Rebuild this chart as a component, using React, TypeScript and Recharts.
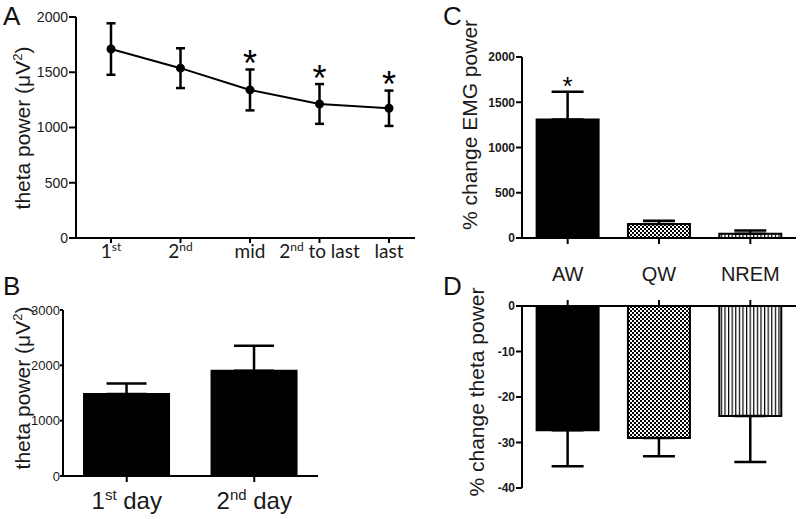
import {
  LineChart,
  Line,
  BarChart,
  Bar,
  ComposedChart,
  XAxis,
  YAxis,
  ErrorBar,
  LabelList,
  Cell,
} from "recharts";

// A: theta power across trial phases
const phaseLabels = ["1st", "2nd", "mid", "2nd to last", "last"];
const phaseMean = [1710, 1537, 1340, 1213, 1174];
const phaseSem = [233, 180, 185, 180, 160];
const phaseSig = [false, false, true, true, true];

// B: theta power per day
const dayLabels = ["1st day", "2nd day"];
const dayMean = [1480, 1900];
const daySem = [193, 452];

// C / D: change per behavioural state
const stateLabels = ["AW", "QW", "NREM"];
const emgChange = [1310, 154, 47];
const emgSem = [305, 36, 37];
const emgSig = [true, false, false];
const thetaChange = [-27.3, -29.0, -24.2];
const thetaSem = [7.9, 4.0, 10.1];

const stateFills = ["#000", "url(#chk)", "url(#vstripe)"];

const phaseData = phaseLabels.map((label, i) => ({
  label,
  mean: phaseMean[i],
  sem: phaseSem[i],
  starAt: phaseSig[i] ? phaseMean[i] + phaseSem[i] : null,
}));

const dayData = dayLabels.map((label, i) => ({
  label,
  mean: dayMean[i],
  err: [0, daySem[i]],
}));

const emgData = stateLabels.map((state, i) => ({
  state,
  value: emgChange[i],
  err: [0, emgSem[i]],
  starAt: emgSig[i] ? emgChange[i] + emgSem[i] : null,
}));

const thetaData = stateLabels.map((state, i) => ({
  state,
  value: thetaChange[i],
  err: [thetaSem[i], 0],
}));

const FONT = "'Liberation Sans', Arial, sans-serif";
const axisStyle = { stroke: "#000", strokeWidth: 2 };

const supTick = (fontSize: number, supSize: number, family: string) => (props: any) => {
  const { x, y, payload } = props;
  const m = /^(\d)(st|nd|rd|th)(.*)$/.exec(payload.value);
  const rise = Math.round(fontSize * 0.38);
  return (
    <text x={x} y={y} dy="0.71em" textAnchor="middle" fontFamily={family} fontSize={fontSize} fill="#1a1a1a">
      {m ? (
        <>
          <tspan>{m[1]}</tspan>
          <tspan dy={-rise} fontSize={supSize}>{m[2]}</tspan>
          <tspan dy={rise}>{m[3]}</tspan>
        </>
      ) : (
        payload.value
      )}
    </text>
  );
};

const star = (size: number, dy: number) => (props: any) => {
  const { x, y, value } = props;
  if (value == null) return null;
  return (
    <text x={x} y={y + dy} textAnchor="middle" fontFamily={FONT} fontSize={size} fill="#000">
      *
    </text>
  );
};

function YLabel({ cx, cy, children }: { cx: number; cy: number; children: any }) {
  return (
    <div
      style={{
        position: "absolute",
        left: cx,
        top: cy,
        transform: "translate(-50%, -50%) rotate(-90deg)",
        whiteSpace: "nowrap",
        fontSize: 21,
        lineHeight: 1,
        color: "#1a1a1a",
      }}
    >
      {children}
    </div>
  );
}

function Letter({ left, top, children }: { left: number; top: number; children: string }) {
  return (
    <div style={{ position: "absolute", left, top, fontSize: 26, lineHeight: 1, color: "#111" }}>
      {children}
    </div>
  );
}

const thetaUnit = (
  <>
    theta power (μV<span style={{ fontSize: 13, verticalAlign: "8px" }}>2</span>)
  </>
);

export default function App() {
  return (
    <div
      style={{
        position: "absolute",
        left: 0,
        top: 0,
        width: 800,
        height: 519,
        background: "#fff",
        fontFamily: FONT,
        overflow: "hidden",
      }}
    >
      <svg width={0} height={0} style={{ position: "absolute" }}>
        <defs>
          <pattern id="chk" width={4} height={4} patternUnits="userSpaceOnUse">
            <rect width={4} height={4} fill="#fff" />
            <rect width={2} height={2} fill="#000" />
            <rect x={2} y={2} width={2} height={2} fill="#000" />
          </pattern>
          <pattern id="vstripe" width={3.6} height={4} patternUnits="userSpaceOnUse">
            <rect width={3.6} height={4} fill="#fff" />
            <rect width={1.2} height={4} fill="#000" />
          </pattern>
        </defs>
      </svg>

      {/* A */}
      <div style={{ position: "absolute", left: 0, top: 0 }}>
        <LineChart width={430} height={270} data={phaseData} margin={{ top: 17, right: 15, bottom: 2, left: 0 }}>
          <XAxis
            dataKey="label"
            scale="point"
            padding={{ left: 35, right: 26 }}
            height={30}
            axisLine={axisStyle}
            tickLine={axisStyle}
            tickSize={5}
            tickMargin={2}
            interval={0}
            tick={supTick(19, 12, "Lato, 'Open Sans', sans-serif")}
          />
          <YAxis
            width={76}
            domain={[0, 2000]}
            ticks={[0, 500, 1000, 1500, 2000]}
            axisLine={axisStyle}
            tickLine={axisStyle}
            tickSize={7}
            tickMargin={1}
            tick={{ fill: "#1a1a1a", fontSize: 14, fontFamily: FONT }}
          />
          <Line
            dataKey="mean"
            stroke="#000"
            strokeWidth={2}
            dot={{ r: 3.5, fill: "#000", stroke: "#000" }}
            activeDot={false}
            isAnimationActive={false}
          >
            <ErrorBar dataKey="sem" width={4.5} strokeWidth={2.5} stroke="#000" direction="y" />
          </Line>
          <Line dataKey="starAt" stroke="none" dot={false} activeDot={false} isAnimationActive={false}>
            <LabelList dataKey="starAt" content={star(36, 6.5)} />
          </Line>
        </LineChart>
      </div>

      {/* B */}
      <div style={{ position: "absolute", left: 0, top: 280 }}>
        <BarChart
          width={330}
          height={239}
          data={dayData}
          margin={{ top: 30, right: 12, bottom: 8, left: 0 }}
          barCategoryGap="16.5%"
        >
          <XAxis
            dataKey="label"
            height={35}
            axisLine={axisStyle}
            tickLine={axisStyle}
            tickSize={6}
            tickMargin={10}
            interval={0}
            tick={supTick(24, 15, FONT)}
          />
          <YAxis
            width={63}
            domain={[0, 3000]}
            ticks={[0, 1000, 2000, 3000]}
            axisLine={axisStyle}
            tickLine={axisStyle}
            tickSize={3}
            tickMargin={0}
            tick={{ fill: "#1a1a1a", fontSize: 13, fontFamily: FONT }}
          />
          <Bar dataKey="mean" fill="#000" stroke="#000" strokeWidth={2} isAnimationActive={false}>
            <ErrorBar dataKey="err" width={20} strokeWidth={2.5} stroke="#000" direction="y" />
          </Bar>
        </BarChart>
      </div>

      {/* C */}
      <div style={{ position: "absolute", left: 440, top: 0 }}>
        <ComposedChart
          width={360}
          height={290}
          data={emgData}
          margin={{ top: 57, right: 4, bottom: 8, left: 0 }}
          barCategoryGap="16%"
        >
          <XAxis
            dataKey="state"
            height={44}
            axisLine={axisStyle}
            tickLine={axisStyle}
            tickSize={6}
            tickMargin={23}
            interval={0}
            tick={{ fill: "#1a1a1a", fontSize: 20, fontFamily: FONT }}
          />
          <YAxis
            width={82}
            domain={[0, 2000]}
            ticks={[0, 500, 1000, 1500, 2000]}
            axisLine={axisStyle}
            tickLine={axisStyle}
            tickSize={6}
            tickMargin={1}
            tick={{ fill: "#1a1a1a", fontSize: 12, fontWeight: "bold", fontFamily: FONT }}
          />
          <Bar dataKey="value" stroke="#000" strokeWidth={2} isAnimationActive={false}>
            {emgData.map((d, i) => (
              <Cell key={d.state} fill={stateFills[i]} />
            ))}
            <ErrorBar dataKey="err" width={16} strokeWidth={2.5} stroke="#000" direction="y" />
          </Bar>
          <Line dataKey="starAt" stroke="none" dot={false} activeDot={false} isAnimationActive={false}>
            <LabelList dataKey="starAt" content={star(26, 2.8)} />
          </Line>
        </ComposedChart>
      </div>

      {/* D */}
      <div style={{ position: "absolute", left: 440, top: 280 }}>
        <BarChart
          width={360}
          height={239}
          data={thetaData}
          margin={{ top: 16, right: 4, bottom: 31, left: 0 }}
          barCategoryGap="16%"
        >
          <XAxis
            dataKey="state"
            orientation="top"
            height={10}
            axisLine={axisStyle}
            tickLine={axisStyle}
            tickSize={6}
            interval={0}
            tickFormatter={() => ""}
          />
          <YAxis
            width={82}
            domain={[-40, 0]}
            ticks={[0, -10, -20, -30, -40]}
            axisLine={axisStyle}
            tickLine={axisStyle}
            tickSize={6}
            tickMargin={1}
            tick={{ fill: "#1a1a1a", fontSize: 12, fontWeight: "bold", fontFamily: FONT }}
          />
          <Bar dataKey="value" stroke="#000" strokeWidth={2} isAnimationActive={false}>
            {thetaData.map((d, i) => (
              <Cell key={d.state} fill={stateFills[i]} />
            ))}
            <ErrorBar dataKey="err" width={16} strokeWidth={2.5} stroke="#000" direction="y" />
          </Bar>
        </BarChart>
      </div>

      <YLabel cx={22} cy={128}>{thetaUnit}</YLabel>
      <YLabel cx={22} cy={388}>{thetaUnit}</YLabel>
      <YLabel cx={469} cy={125}>% change EMG power</YLabel>
      <YLabel cx={476} cy={392}>% change theta power</YLabel>

      <Letter left={3} top={3}>A</Letter>
      <Letter left={3} top={273}>B</Letter>
      <Letter left={443} top={3}>C</Letter>
      <Letter left={443} top={273}>D</Letter>
    </div>
  );
}
